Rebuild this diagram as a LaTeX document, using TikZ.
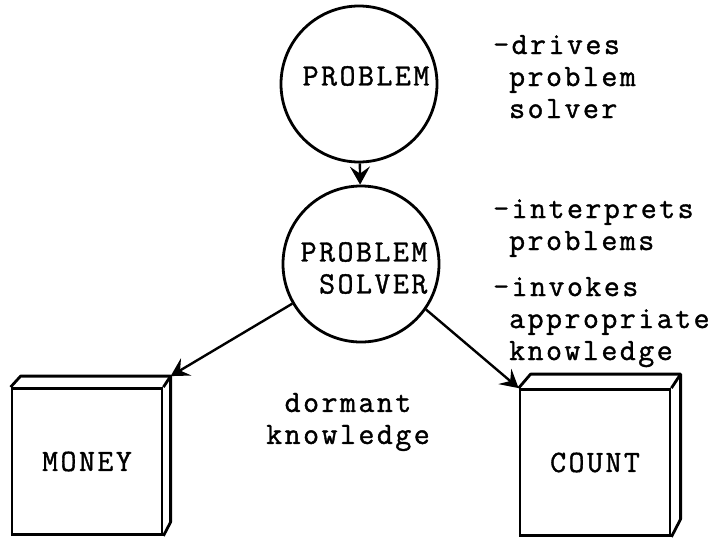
\documentclass[tikz,border=0pt]{standalone}
\usepackage{fontspec}
\newfontfamily\typer{Latin Modern Mono}[LetterSpace=8,FakeBold=1.2]
\usetikzlibrary{arrows.meta}
\begin{document}
\begin{tikzpicture}[x=1pt,y=-1pt,
        bubble/.style={draw,circle,line width=2.8pt,minimum size=156pt,inner sep=0pt},
        store/.style={draw,line width=2.8pt,minimum width=150pt,minimum height=146pt,inner sep=0pt},
        note/.style={anchor=base west,align=left,inner sep=0pt},
        link/.style={line width=2.4pt,-{Stealth[length=18pt,width=20pt,inset=7pt]}},
        font=\typer\fontsize{31}{32}\selectfont]
    \useasboundingbox (0,0) rectangle (725,538);

    \node[bubble] (problem) at (359,84) {};
    \node at (366,76) (problemtext) {PROBLEM};
    \node[bubble] (solver) at (361,264) {};
    \node[align=right] at (364,268) (solvertext) {PROBLEM\\SOLVER};

    \node[store] (money) at (87,461.5) {MONEY};
    \draw[line width=2.8pt,line join=round]
        (money.north west) -- ++(10,-11) -- ++(150,0) coordinate (moneytop)
        -- ++(0,146) -- (money.south east);
    \draw[line width=2.8pt] (money.north east) -- (moneytop);

    \node[store] (count) at (595,462.5) {COUNT};
    \draw[line width=2.8pt,line join=round]
        (count.north west) -- ++(12,-14) -- ++(150,0) coordinate (counttop)
        -- ++(0,145) -- (count.south east);
    \draw[line width=2.8pt] (count.north east) -- (counttop);

    % connectors
    \draw[link] (problem) -- (solver);
    \draw[link] (solver.210) -- (moneytop);
    \draw[link] (solver.325) -- (count.north west);

    % notes (anchored on the baseline of the last line)
    \node[note] (drives) at (493,118)
        {-drives\\\hphantom{-}problem\\\hphantom{-}solver};
    \node[note] (interprets) at (493,250)
        {-interprets\\\hphantom{-}problems};
    \node[note] (invokes) at (493,360)
        {-invokes\\\hphantom{-}appropriate\\\hphantom{-}knowledge};
    \node[align=center] (dormant) at (348,422) {dormant\\knowledge};
\end{tikzpicture}
\end{document}
